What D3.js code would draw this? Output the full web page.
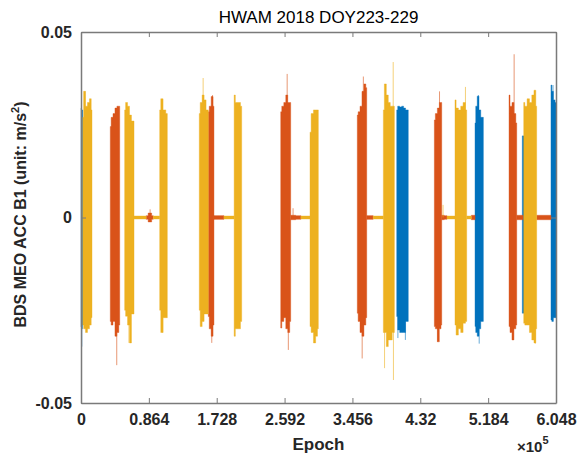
<!DOCTYPE html>
<html>
<head>
<meta charset="utf-8">
<script src="https://cdn.jsdelivr.net/npm/d3@7"></script>
<style>
  body { margin: 0; background: #fff; }
  text { font-family: "Liberation Sans", Arial, sans-serif; }
</style>
</head>
<body>
<div id="chart"></div>
<script>
// axis ticks
const xTickVals = [0, 86400, 172800, 259200, 345600, 432000, 518400, 604800];
const xTickLabels = ["0", "0.864", "1.728", "2.592", "3.456", "4.32", "5.184", "6.048"];
const yTickVals = [-0.05, 0, 0.05];
const yTickLabels = ["-0.05", "0", "0.05"];

// bursts: [epoch, upper envelope, lower envelope]
const blueBursts = [
    [[0, 0.0295, -0.0295], [1200, 0.029, -0.030], [2200, 0.029, -0.029]],
    [[402000, 0.029, -0.0267], [404500, 0.030, -0.0303], [407000, 0.0298, -0.031], [409500, 0.030, -0.031], [412000, 0.0295, -0.031], [414500, 0.029, -0.028], [416700, 0.029, -0.028]],
    [[501700, 0.0255, -0.0294], [503500, 0.030, -0.031], [505500, 0.0327, -0.032], [508000, 0.029, -0.030], [510000, 0.027, -0.028], [512300, 0.027, -0.028]],
    [[561900, 0.022, -0.0258], [565300, 0.022, -0.0258]],
    [[598400, 0.0357, -0.0276], [600500, 0.034, -0.028], [602500, 0.0317, -0.027], [604800, 0.031, -0.027]]
];
const orangeBursts = [
    [[37300, 0.0245, -0.028], [39500, 0.027, -0.029], [42000, 0.028, -0.028], [44500, 0.0295, -0.032], [47000, 0.030, -0.031], [49300, 0.030, -0.029]],
    [[83000, 0.0005, -0.0005], [88000, 0.0012, -0.0012], [92000, 0.0005, -0.0005]],
    [[162100, 0.0285, -0.0267], [164500, 0.030, -0.030], [167000, 0.0326, -0.032], [169300, 0.030, -0.029]],
    [[169300, 0.0005, -0.0005], [182000, 0.0005, -0.0005]],
    [[254300, 0.0285, -0.0298], [257000, 0.030, -0.028], [259500, 0.031, -0.027], [262000, 0.033, -0.030], [264500, 0.031, -0.031], [267000, 0.031, -0.028]],
    [[267000, 0.0006, -0.0006], [280000, 0.0005, -0.0005]],
    [[351800, 0.0276, -0.0258], [354000, 0.0285, -0.028], [356500, 0.030, -0.031], [359000, 0.034, -0.032], [361500, 0.036, -0.029], [363800, 0.035, -0.027]],
    [[363800, 0.0005, -0.0005], [372000, 0.0005, -0.0005]],
    [[449900, 0.0263, -0.0294], [452500, 0.028, -0.030], [455000, 0.0295, -0.0335], [457500, 0.031, -0.030], [459300, 0.031, -0.029]],
    [[459300, 0.0006, -0.0006], [466000, 0.0005, -0.0005]],
    [[497000, 0.0006, -0.0006], [501700, 0.0006, -0.0006]],
    [[545000, 0.033, -0.0294], [547500, 0.030, -0.031], [550000, 0.031, -0.033], [552500, 0.028, -0.030], [554800, 0.0255, -0.029]],
    [[554800, 0.0006, -0.0006], [563000, 0.0006, -0.0006]],
    [[580200, 0.0006, -0.0006], [598400, 0.0006, -0.0006]]
];
const yellowBursts = [
    [[2200, 0.027, -0.029], [4500, 0.034, -0.030], [7000, 0.030, -0.031], [9500, 0.031, -0.030], [12000, 0.032, -0.029], [14000, 0.029, -0.027]],
    [[55600, 0.029, -0.025], [58000, 0.031, -0.0266], [60500, 0.030, -0.029], [63000, 0.0276, -0.0338], [65500, 0.026, -0.026], [67500, 0.026, -0.026]],
    [[67500, 0.0004, -0.0004], [83000, 0.0004, -0.0004]],
    [[92000, 0.0004, -0.0004], [100200, 0.0004, -0.0004]],
    [[100200, 0.029, -0.025], [103000, 0.032, -0.031], [106000, 0.029, -0.027], [109900, 0.028, -0.027]],
    [[150600, 0.028, -0.025], [153000, 0.031, -0.0294], [155500, 0.033, -0.028], [158000, 0.0317, -0.026], [160500, 0.029, -0.026], [162100, 0.029, -0.026]],
    [[182000, 0.0004, -0.0004], [195000, 0.0004, -0.0004]],
    [[195000, 0.033, -0.032], [198000, 0.031, -0.030], [201500, 0.031, -0.030], [204600, 0.030, -0.028]],
    [[280000, 0.0004, -0.0004], [291600, 0.0004, -0.0004]],
    [[291600, 0.023, -0.0294], [294500, 0.028, -0.031], [297500, 0.029, -0.0338], [300000, 0.029, -0.032], [302200, 0.029, -0.030]],
    [[372000, 0.0004, -0.0004], [385000, 0.0004, -0.0004]],
    [[385000, 0.029, -0.031], [387500, 0.036, -0.031], [390000, 0.033, -0.0348], [392500, 0.031, -0.033], [395000, 0.030, -0.033], [397500, 0.030, -0.031], [399000, 0.030, -0.031]],
    [[466000, 0.0004, -0.0004], [476200, 0.0004, -0.0004]],
    [[476200, 0.0317, -0.029], [479000, 0.0295, -0.0317], [482000, 0.029, -0.030], [485000, 0.030, -0.031], [488000, 0.031, -0.0285], [491100, 0.029, -0.028]],
    [[491100, 0.0004, -0.0004], [497000, 0.0004, -0.0004]],
    [[563700, 0.031, -0.0285], [566500, 0.030, -0.029], [569500, 0.032, -0.029], [572500, 0.031, -0.031], [575500, 0.033, -0.033], [578000, 0.0343, -0.0338], [580200, 0.030, -0.030]]
];

// single tall samples that stick out of the bursts: [epoch, value]
const blueSpikes = [[1000, -0.0348], [403500, -0.0325], [506000, 0.033], [507000, -0.034], [413000, -0.033], [601000, 0.0357]];
const orangeSpikes = [[45500, -0.0398], [166500, -0.0338], [167500, 0.033], [262500, 0.0387], [264000, -0.0357],
    [358000, -0.038], [359500, 0.038], [454000, -0.0335], [456500, 0.034], [551500, 0.044], [88000, 0.0022], [270000, 0.0025]];
const yellowSpikes = [[5000, 0.034], [61000, -0.0338], [155500, 0.0376], [386500, -0.0406], [397500, 0.0419],
    [397800, -0.0438], [489500, 0.0352], [578500, -0.034], [461000, 0.0034], [104000, -0.031]];

const colors = {blue: "#0072BD", orange: "#D95319", yellow: "#EDB120"};

const chart = {width: 577, height: 457, margin: {top: 32, right: 21, bottom: 54, left: 81}};
chart.innerWidth = chart.width - chart.margin.left - chart.margin.right;
chart.innerHeight = chart.height - chart.margin.top - chart.margin.bottom;

const svg = d3.select("#chart")
    .append("svg")
    .attr("width", chart.width)
    .attr("height", chart.height)
    .append("g")
    .attr("transform", `translate(${chart.margin.left}, ${chart.margin.top})`);

const x = d3.scaleLinear().domain([0, 604800]).range([0, chart.innerWidth]);
const y = d3.scaleLinear().domain([-0.05, 0.05]).range([chart.innerHeight, 0]);

const area = d3.area()
    .x(d => x(d[0]))
    .y0(d => y(d[2]))
    .y1(d => y(d[1]))
    .curve(d3.curveStep);

const series = [
    {bursts: blueBursts, spikes: blueSpikes, color: colors.blue},
    {bursts: orangeBursts, spikes: orangeSpikes, color: colors.orange},
    {bursts: yellowBursts, spikes: yellowSpikes, color: colors.yellow}
];

series.forEach(s => {
    const g = svg.append("g");
    g.selectAll("line")
        .data(s.spikes)
        .enter()
        .append("line")
        .attr("x1", d => x(d[0]))
        .attr("x2", d => x(d[0]))
        .attr("y1", y(0))
        .attr("y2", d => y(d[1]))
        .attr("stroke", s.color)
        .attr("stroke-width", 1)
        .attr("stroke-opacity", 0.6);
    g.selectAll("path")
        .data(s.bursts)
        .enter()
        .append("path")
        .attr("d", area)
        .attr("fill", s.color)
        .attr("stroke", s.color)
        .attr("stroke-width", 0.8)
        .attr("stroke-opacity", 0.5);
});

// axes: MATLAB style box with inward ticks
const axisColor = "#7a7a7a";
const styleAxis = sel => {
    sel.selectAll(".domain").attr("stroke", axisColor).attr("stroke-width", 1.5);
    sel.selectAll(".tick line").attr("stroke", axisColor).attr("stroke-width", 1);
    sel.selectAll(".tick text")
        .attr("fill", "#262626")
        .style("font-size", "16px")
        .style("font-weight", "bold");
};

svg.append("g")
    .attr("transform", `translate(0, ${chart.innerHeight})`)
    .call(d3.axisBottom(x).tickValues(xTickVals).tickFormat((d, i) => xTickLabels[i])
        .tickSizeInner(-5).tickSizeOuter(0).tickPadding(11))
    .call(styleAxis);
svg.append("g")
    .call(d3.axisTop(x).tickValues(xTickVals).tickFormat("").tickSizeInner(-5).tickSizeOuter(0))
    .call(styleAxis);
svg.append("g")
    .call(d3.axisLeft(y).tickValues(yTickVals).tickFormat((d, i) => yTickLabels[i])
        .tickSizeInner(-5).tickSizeOuter(0).tickPadding(9))
    .call(styleAxis);
svg.append("g")
    .attr("transform", `translate(${chart.innerWidth}, 0)`)
    .call(d3.axisRight(y).tickValues(yTickVals).tickFormat("").tickSizeInner(-5).tickSizeOuter(0))
    .call(styleAxis);

// title
svg.append("text")
    .attr("x", chart.innerWidth / 2)
    .attr("y", -9)
    .attr("text-anchor", "middle")
    .attr("fill", "#000")
    .style("font-size", "17px")
    .text("HWAM 2018 DOY223-229");

// x label
svg.append("text")
    .attr("x", chart.innerWidth / 2)
    .attr("y", chart.innerHeight + 47)
    .attr("text-anchor", "middle")
    .attr("fill", "#262626")
    .style("font-size", "17px")
    .style("font-weight", "bold")
    .text("Epoch");

// exponent
const expo = svg.append("text")
    .attr("x", chart.innerWidth - 39)
    .attr("y", chart.innerHeight + 49)
    .attr("fill", "#262626")
    .style("font-size", "15px")
    .style("font-weight", "bold");
expo.append("tspan").text("\u00d710");
expo.append("tspan").attr("dy", -8).style("font-size", "11px").text("5");

// y label
const yl = svg.append("text")
    .attr("transform", `translate(${-55}, ${chart.innerHeight / 2 - 3}) rotate(-90)`)
    .attr("text-anchor", "middle")
    .attr("fill", "#262626")
    .style("font-size", "16px")
    .style("font-weight", "bold");
yl.append("tspan").text("BDS MEO ACC B1 (unit: m/s");
yl.append("tspan").attr("dy", -7).style("font-size", "11px").text("2");
yl.append("tspan").attr("dy", 7).text(")");
</script>
</body>
</html>
